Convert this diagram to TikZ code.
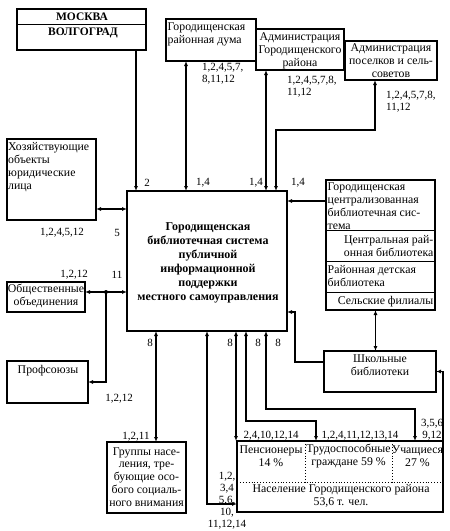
\documentclass[tikz,border=0pt]{standalone}
\usepackage{fontspec}
\setmainfont{Liberation Serif}
\usetikzlibrary{arrows.meta}

\begin{document}
\begin{tikzpicture}[
      x=1pt,y=-1pt,
      >={Latex[length=5pt,width=4pt]},
      unit/.style={draw,line width=1.3pt,anchor=north west,outer sep=0pt,inner sep=0pt},
      core/.style={draw,line width=2.8pt,anchor=north west,outer sep=0pt,inner sep=0pt},
      txt/.style={inner sep=0pt,font=\fontsize{11.8}{12.9}\selectfont},
      bigtxt/.style={inner sep=0pt,align=center,font=\fontsize{12}{14}\selectfont\bfseries},
      codes/.style={inner sep=0pt,font=\fontsize{11}{12}\selectfont},
      flow/.style={line width=1.1pt},
      split/.style={line width=1pt},
      dotsplit/.style={dotted,line width=0.9pt}
    ]
    \useasboundingbox (0,0) rectangle (450,531);

    \node[unit,minimum width=129pt,minimum height=41pt] (moscow) at (17,9) {};
    \draw[split] ([yshift=-15pt]moscow.north west) -- ([yshift=-15pt]moscow.north east);
    \node[txt,font=\fontsize{11.5}{12}\selectfont\bfseries] (msk) at (82,17) {МОСКВА};
    \node[txt,font=\fontsize{11.5}{12}\selectfont\bfseries] (vlg) at (83,33) {ВОЛГОГРАД};

    \node[unit,minimum width=90pt,minimum height=42pt] (duma) at (166,19) {};
    \node[unit,fill=white,minimum width=88pt,minimum height=41pt] (adm) at (256,29) {};
    \node[unit,fill=white,minimum width=92pt,minimum height=39pt] (pos) at (345,41) {};
    \node[txt,align=left,anchor=west] (dumat) at (167.5,34) {Городищенская\\районная дума};
    \node[txt,align=center] (admt) at (300,51) {Администрация\\Городищенского\\района};
    \node[txt,align=center] (post) at (391,61) {Администрация\\поселков и сель-\\советов};

    \node[core,minimum width=160pt,minimum height=140pt] (main) at (127,191) {};
    \node[bigtxt] (maint) at (208,263) {Городищенская\\библиотечная система\\публичной\\информационной\\поддержки\\местного самоуправления};

    \node[unit,minimum width=89pt,minimum height=81pt] (hoz) at (7,139) {};
    \node[txt,align=left,anchor=west] (hozt) at (8,167) {Хозяйствующие\\объекты\\юридические\\лица};
    \node[unit,minimum width=78pt,minimum height=30pt] (obsh) at (7,282) {};
    \node[txt,align=center] (obsht) at (46,295.5) {Общественные\\объединения};
    \node[unit,minimum width=81pt,minimum height=42pt] (prof) at (7,361) {};
    \node[txt] (proft) at (48,371) {Профсоюзы};
    \node[unit,minimum width=79pt,minimum height=71pt] (grp) at (107,442) {};
    \node[txt,align=center] (grpt) at (146.5,477) {Группы насе-\\ления, тре-\\бующие осо-\\бого социаль-\\ного внимания};

    \node[unit,minimum width=109pt,minimum height=130pt] (cbs) at (326,180) {};
    \draw[split] ([yshift=-50pt]cbs.north west) -- ([yshift=-50pt]cbs.north east);
    \draw[split] ([yshift=-81pt]cbs.north west) -- ([yshift=-81pt]cbs.north east);
    \draw[split] ([yshift=-112pt]cbs.north west) -- ([yshift=-112pt]cbs.north east);
    \node[txt,align=left,anchor=west] (cbst) at (327.5,206) {Городищенская\\централизованная\\библиотечная сис-\\тема};
    \node[txt,align=right,anchor=east] (crbt) at (433.5,246) {Центральная рай-\\онная библиотека};
    \node[txt,align=left,anchor=west] (rdbt) at (327.5,276) {Районная детская\\библиотека};
    \node[txt,anchor=east] (sft) at (433.5,302) {Сельские филиалы};

    \node[unit,minimum width=112pt,minimum height=41pt] (school) at (324,351) {};
    \node[txt,align=center] (schoolt) at (380,365) {Школьные\\библиотеки};

    \node[unit,minimum width=206pt,minimum height=71pt] (pop) at (237,441) {};
    \draw[dotsplit] ([yshift=-41pt]pop.north west) -- ([yshift=-41pt]pop.north east);
    \draw[dotsplit] ([xshift=68pt]pop.north west) -- ++(0,41);
    \draw[dotsplit] ([xshift=155pt]pop.north west) -- ++(0,41);
    \node[txt,align=center] (pent) at (271,456) {Пенсионеры\\14 \%};
    \node[txt,align=center] (trudt) at (348.5,456) {Трудоспособные\\граждане 59 \%};
    \node[txt,align=center] (uchat) at (417.5,456) {Учащиеся\\27 \%};
    \node[txt,align=center] (popt) at (341,496) {Население Городищенского района\\53,6 т. чел.};

    \coordinate (mskout) at ([xshift=-10pt]moscow.south east);
    \coordinate (dumaout) at ([xshift=20pt]duma.south west);
    \coordinate (admout) at ([xshift=10pt]adm.south west);
    \coordinate (posout) at ([xshift=30pt]pos.south west);
    \draw[flow,->] (mskout) -- (mskout |- main.north);
    \draw[flow,<->] (dumaout) -- (dumaout |- main.north);
    \draw[flow,<->] (admout) -- (admout |- main.north);
    \draw[flow,<->] (posout) -- ++(0,50) -| ([xshift=149pt]main.north west);

    \coordinate (hozout) at ([yshift=11pt]hoz.south east);
    \coordinate (obshout) at ([yshift=5pt]obsh.east);
    \coordinate (jn) at ([xshift=21pt]obshout);
    \coordinate (grpin) at ([xshift=9.5pt]grp.north);
    \draw[flow,<->] (hozout) -- (hozout -| main.west);
    \draw[flow,<->] (obshout) -- (obshout -| main.west);
    \fill (jn) circle (2pt);
    \draw[flow,->] (jn) |- (prof.east);
    \draw[flow,<->] (grpin |- main.south) -- (grpin);

    \coordinate (pensin) at ([xshift=-1pt]pop.north west);
    \draw[flow,<->] (main.south) |- ([yshift=-27.5pt]pop.west);
    \draw[flow,<->] (pensin |- main.south) -- (pensin);
    \draw[flow,<->] ([xshift=119pt]main.south west) -- ++(0,90) -| ([xshift=79pt]pop.north west);
    \draw[flow,<->] ([xshift=139pt]main.south west) -- ++(0,78) -| ([xshift=178pt]pop.north west);

    \coordinate (cbsout) at ([yshift=-21pt]cbs.north west);
    \coordinate (cbsdown) at ([xshift=-5pt]cbs.south);
    \draw[flow,->] (cbsout) -- (cbsout -| main.east);
    \draw[flow,<->] (cbsdown) -- (cbsdown |- school.north);
    \draw[flow,->] ([yshift=9.5pt]school.west) -| ([xshift=8pt,yshift=19pt]main.south east) -- ([yshift=19pt]main.south east);
    \draw[flow,->] (pop.north east) |- (school.east);

    \node[codes] (c2) at (147,183) {2};
    \node[codes] (c14a) at (203,183) {1,4};
    \node[codes] (c14b) at (256,183) {1,4};
    \node[codes] (c14c) at (298,183) {1,4};
    \node[codes,align=left,anchor=west] (cduma) at (202,73.5) {1,2,4,5,7,\\8,11,12};
    \node[codes,align=left,anchor=west] (cadm) at (287,86.5) {1,2,4,5,7,8,\\11,12};
    \node[codes,align=left,anchor=west] (cpos) at (386,102) {1,2,4,5,7,8,\\11,12};
    \node[codes] (choz) at (62,233) {1,2,4,5,12};
    \node[codes] (c5) at (117,233) {5};
    \node[codes] (cobsh) at (74,275) {1,2,12};
    \node[codes] (c11) at (117,275) {11};
    \node[codes] (cprof) at (119,399) {1,2,12};
    \node[codes] (c8a) at (150,343) {8};
    \node[codes] (cgrp) at (136,437) {1,2,11};
    \node[codes] (c8b) at (230,343) {8};
    \node[codes] (c8c) at (258,343) {8};
    \node[codes] (c8d) at (278,343) {8};
    \node[codes,align=center] (cpop) at (227,501) {1,2,\\3,4\\5,6,\\10,\\11,12,14};
    \node[codes] (cpen) at (271,436) {2,4,10,12,14};
    \node[codes] (ctrud) at (360,436) {1,2,4,11,12,13,14};
    \node[codes,align=center] (cucha) at (432,430) {3,5,6\\9,12};
  \end{tikzpicture}
\end{document}
